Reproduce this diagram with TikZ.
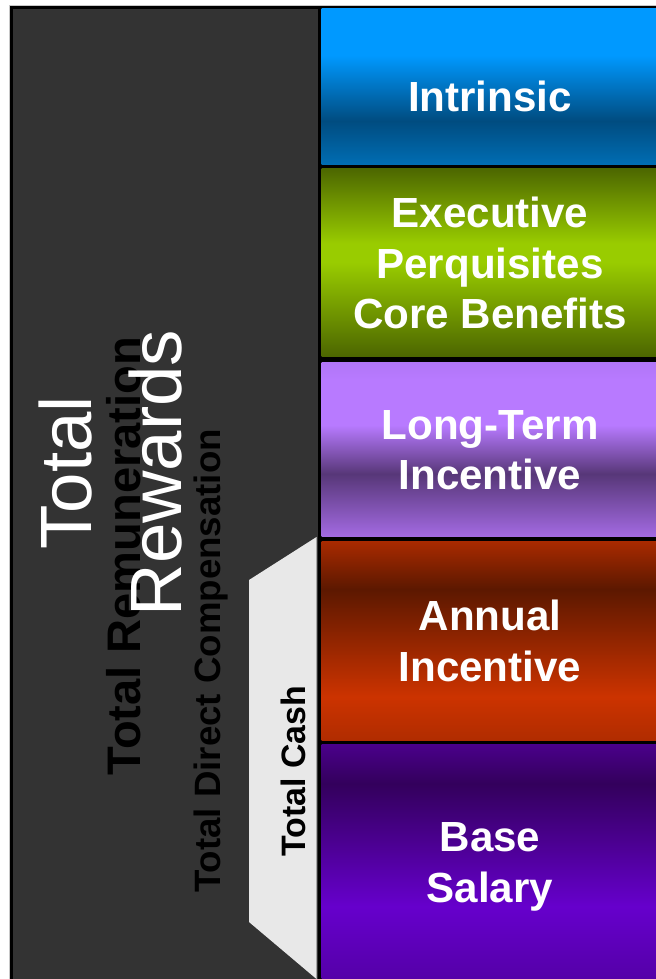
\documentclass[tikz,border=0pt]{standalone}
\usepackage{fontspec}
\setmainfont{Liberation Sans}
\usepackage{tikz}

\definecolor{panel}{HTML}{333333}
\definecolor{cashgrey}{HTML}{E8E8E8}
\definecolor{edgegrey}{HTML}{C8C8C8}
% block colours, top to bottom
\definecolor{intrA}{HTML}{0099FF}
\definecolor{intrB}{HTML}{004C80}
\definecolor{intrC}{HTML}{006DB3}
\definecolor{grnA}{HTML}{4C6600}
\definecolor{grnB}{HTML}{99CC00}
\definecolor{ltiA}{HTML}{B176F7}
\definecolor{ltiB}{HTML}{B87AFF}
\definecolor{ltiC}{HTML}{573778}
\definecolor{ltiD}{HTML}{A36AE2}
\definecolor{aiA}{HTML}{A82A00}
\definecolor{aiB}{HTML}{5C1800}
\definecolor{aiC}{HTML}{CC3300}
\definecolor{aiD}{HTML}{B02C00}
\definecolor{bsA}{HTML}{4A008A}
\definecolor{bsB}{HTML}{33005C}
\definecolor{bsC}{HTML}{6600CC}
\definecolor{bsD}{HTML}{5200A2}

\pgfdeclareverticalshading{intrinsicfill}{100bp}{color(0bp)=(intrC); color(25bp)=(intrC);
  color(39bp)=(intrB); color(60bp)=(intrA); color(75bp)=(intrA); color(100bp)=(intrA)}
\pgfdeclareverticalshading{benefitsfill}{100bp}{color(0bp)=(grnA); color(25bp)=(grnA);
  color(50bp)=(grnB); color(55bp)=(grnB); color(75bp)=(grnA); color(100bp)=(grnA)}
\pgfdeclareverticalshading{ltifill}{100bp}{color(0bp)=(ltiD); color(25bp)=(ltiD);
  color(43bp)=(ltiC); color(57bp)=(ltiB); color(70bp)=(ltiB); color(75bp)=(ltiA); color(100bp)=(ltiA)}
\pgfdeclareverticalshading{annualfill}{100bp}{color(0bp)=(aiD); color(25bp)=(aiD);
  color(36bp)=(aiC); color(63bp)=(aiB); color(75bp)=(aiA); color(100bp)=(aiA)}
\pgfdeclareverticalshading{salaryfill}{100bp}{color(0bp)=(bsD); color(25bp)=(bsD);
  color(42bp)=(bsC); color(67bp)=(bsB); color(75bp)=(bsA); color(100bp)=(bsA)}

\tikzset{
  blocktext/.style={text=white, align=center, font=\fontsize{31.6}{37.9}\selectfont\bfseries},
  sidelabel/.style={rotate=90, anchor=base, text=black}
}

\begin{document}
\begin{tikzpicture}[x=0.75pt,y=-0.75pt]
    \useasboundingbox (0,0) rectangle (656,979);
    \fill[white] (0,0) rectangle (656,979);

    % frame and dark panel
    \draw[edgegrey, line width=0.75pt] (9.5,990) |- (660,5.5);
    \fill[black] (10,6) rectangle (660,990);
    \fill[panel] (13,8.5) rectangle (318.3,990);

    % total cash tab
    \fill[cashgrey] (316.5,537) -- (249,580) -- (249,922) -- (316.5,979) -- (316.5,990) -- cycle;

    % the five blocks
    \shade[shading=intrinsicfill] (321.7,8.5) rectangle (660,164.5);
    \shade[shading=benefitsfill] (321.7,168) rectangle (660,356.5);
    \shade[shading=ltifill] (321.7,362.5) rectangle (660,536.5);
    \shade[shading=annualfill] (321.7,541.5) rectangle (660,740.5);
    \shade[shading=salaryfill] (321.7,744.5) rectangle (660,990);

    \node[blocktext] (intrinsic) at (490,96) {Intrinsic};
    \node[blocktext] (benefits) at (490,263) {Executive\\Perquisites\\Core Benefits};
    \node[blocktext] (lti) at (490,450) {Long-Term\\Incentive};
    \node[blocktext] (annual) at (490,641) {Annual\\Incentive};
    \node[blocktext] (salary) at (490,867) {Base\\Salary};

    % labels along the left side
    \node[sidelabel, font=\fontsize{35.3}{40}\selectfont\bfseries] (remuneration) at (140,556) {Total Remuneration};
    \node[sidelabel, font=\fontsize{27.5}{32}\selectfont\bfseries] (direct) at (220,661) {Total Direct Compensation};
    \node[sidelabel, font=\fontsize{25.4}{30}\selectfont\bfseries] (cash) at (305,771) {Total Cash};

    \node[rotate=90, text=white, align=center, font=\fontsize{54.5}{67.5}\selectfont] (rewards) at (111,473) {Total\\Rewards};
\end{tikzpicture}
\end{document}
